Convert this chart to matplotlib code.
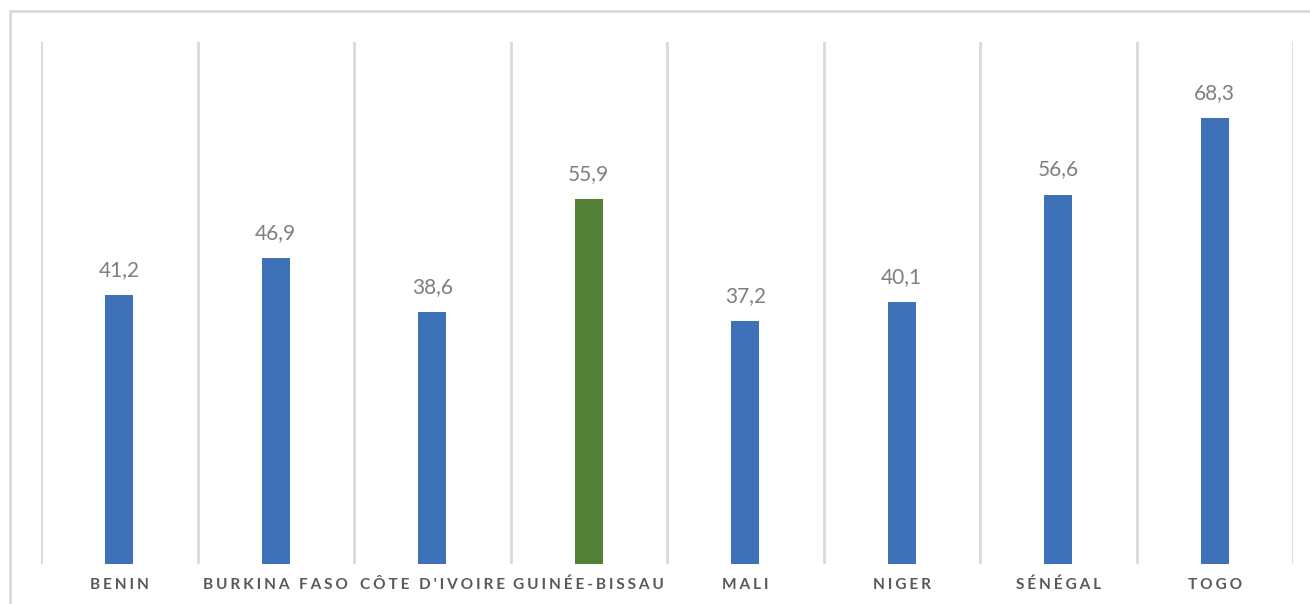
import matplotlib.pyplot as plt
import numpy as np
from matplotlib.lines import Line2D

countries = ["BENIN", "BURKINA FASO", "CÔTE D'IVOIRE", "GUINÉE-BISSAU",
             "MALI", "NIGER", "SÉNÉGAL", "TOGO"]
values = [41.2, 46.9, 38.6, 55.9, 37.2, 40.1, 56.6, 68.3]
highlight = "GUINÉE-BISSAU"

blue = "#3F71B9"
green = "#538135"

def spaced(s):
    # fake letter spacing with thin + hair spaces
    return "\u2009\u200a".join(s)

fig = plt.figure(figsize=(13.1, 6.04), dpi=100)
ax = fig.add_axes([41 / 1310, 40 / 604, (1293 - 41) / 1310, (564 - 42) / 604])

x = np.arange(len(countries))
colors = [green if c == highlight else blue for c in countries]
bars = ax.bar(x, values, width=0.18, color=colors, zorder=3)

for xi, v in zip(x, values):
    ax.annotate(f"{v:.1f}".replace(".", ","), (xi, v), xytext=(0, 11),
                textcoords="offset points", ha="center", va="bottom",
                fontsize=15, color="#7F7F7F", family="Lato")

ax.set_xlim(-0.5, len(countries) - 0.5)
ax.set_ylim(0, 80)
for b in np.arange(-0.5, len(countries)):
    ax.axvline(b, color="#D9D9D9", lw=2, zorder=1)

ax.set_yticks([])
ax.set_xticks(x)
ax.set_xticklabels([spaced(c) for c in countries], fontsize=11.1,
                   fontweight="bold", color="#595959", family="Lato")
ax.tick_params(axis="x", length=0, pad=10)
for s in ax.spines.values():
    s.set_visible(False)

# outer chart border (top and left edges visible)
fig.add_artist(Line2D([10 / 1310, 1], [1 - 11 / 604, 1 - 11 / 604],
                      transform=fig.transFigure, color="#D9D9D9", lw=2))
fig.add_artist(Line2D([10 / 1310, 10 / 1310], [0, 1 - 11 / 604],
                      transform=fig.transFigure, color="#D9D9D9", lw=2))

fig.savefig("out.png", dpi=100)
